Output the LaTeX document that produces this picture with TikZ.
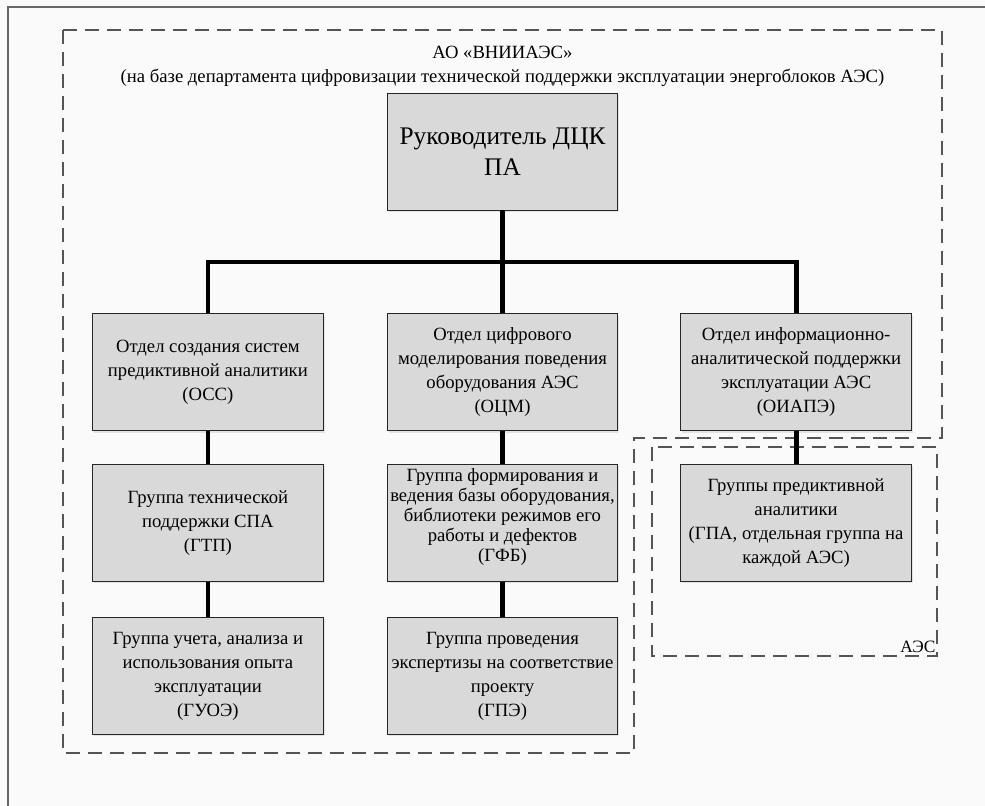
\documentclass[tikz,border=0pt]{standalone}
\usepackage{fontspec}
\setmainfont{LiberationSerif}[Extension=.ttf, UprightFont=*-Regular, BoldFont=*-Bold]
\usetikzlibrary{positioning,shadows}
\definecolor{boxgray}{RGB}{217,217,217}
\definecolor{zonegray}{RGB}{85,85,85}

\begin{document}
\begin{tikzpicture}[x=0.75pt, y=-0.75pt,
    unit/.style={draw=black!85, line width=0.7pt, fill=boxgray, minimum width=173pt, minimum height=87.75pt, inner sep=2pt, align=center, font=\fontsize{14}{18}\selectfont, drop shadow={shadow xshift=1.2pt, shadow yshift=-1.2pt, opacity=0.18}},
    link/.style={line width=3.6pt, black},
    zone/.style={draw=zonegray, line width=0.9pt, dash pattern=on 10.5pt off 6pt}]

    \useasboundingbox (0,0) rectangle (985,806);
    \fill[white!98!black] (0,0) rectangle (985,806); % page background
    \draw[gray!80!black, line width=1.5pt] (985,7) -- (8,7) -- (8,806); % page frame

    % dashed zones
    \draw[zone] (63,30) -- (942,30) -- (942,438) -- (634,438) -- (634,753) -- (63,753) -- cycle; % VNIIAES
    \draw[zone] (652,447) rectangle (937,656); % AES
    \node[anchor=south east, inner sep=1pt, font=\fontsize{13}{15}\selectfont] (aes) at (937,654) {АЭС};

    \node[font=\fontsize{14}{17}\selectfont] (org) at (502.5,52) {АО «ВНИИАЭС»}; % title
    \node[font=\fontsize{14}{17}\selectfont, below=1pt of org] (base) {(на базе департамента цифровизации технической поддержки эксплуатации энергоблоков АЭС)};

    \node[unit, font=\fontsize{19}{23}\selectfont] (lead) at (502.5,151.5) {Руководитель ДЦК\\ПА}; % head

    \node[unit, below=77.25pt of lead] (OCM) {Отдел цифрового\\моделирования поведения\\оборудования АЭС\\(ОЦМ)}; % middle department
    \node[unit, left=47.25pt of OCM] (OSS) {Отдел создания систем\\предиктивной аналитики\\(ОСС)}; % left department
    \node[unit, right=46.5pt of OCM] (OIAPE) {Отдел информационно-\\аналитической поддержки\\эксплуатации АЭС\\(ОИАПЭ)}; % right department

    \node[unit, below=24.75pt of OSS] (GTP) {Группа технической\\поддержки СПА\\(ГТП)};
    \node[unit, below=24.75pt of OCM, inner sep=0.5pt, font=\fontsize{14}{15}\selectfont] (GFB) {Группа формирования и\\ведения базы оборудования,\\библиотеки режимов его\\работы и дефектов\\(ГФБ)\\[-3pt]\mbox{}}; % text sits a bit high
    \node[unit, below=24.75pt of OIAPE] (GPA) {Группы предиктивной\\аналитики\\(ГПА, отдельная группа на\\каждой АЭС)};

    \node[unit, below=26.25pt of GTP] (GUOE) {Группа учета, анализа и\\использования опыта\\эксплуатации\\(ГУОЭ)};
    \node[unit, below=26.25pt of GFB] (GPE) {Группа проведения\\экспертизы на соответствие\\проекту\\(ГПЭ)};

    \coordinate[below=38.6pt of lead] (bus); % horizontal bus
    \draw[link] (lead) -- (OCM);
    \draw[link] (OSS.north) |- (bus) -| (OIAPE.north);
    \draw[link] (OSS) -- (GTP);
    \draw[link] (GTP) -- (GUOE);
    \draw[link] (OCM) -- (GFB);
    \draw[link] (GFB) -- (GPE);
    \draw[link] (OIAPE) -- (GPA);
\end{tikzpicture}
\end{document}
